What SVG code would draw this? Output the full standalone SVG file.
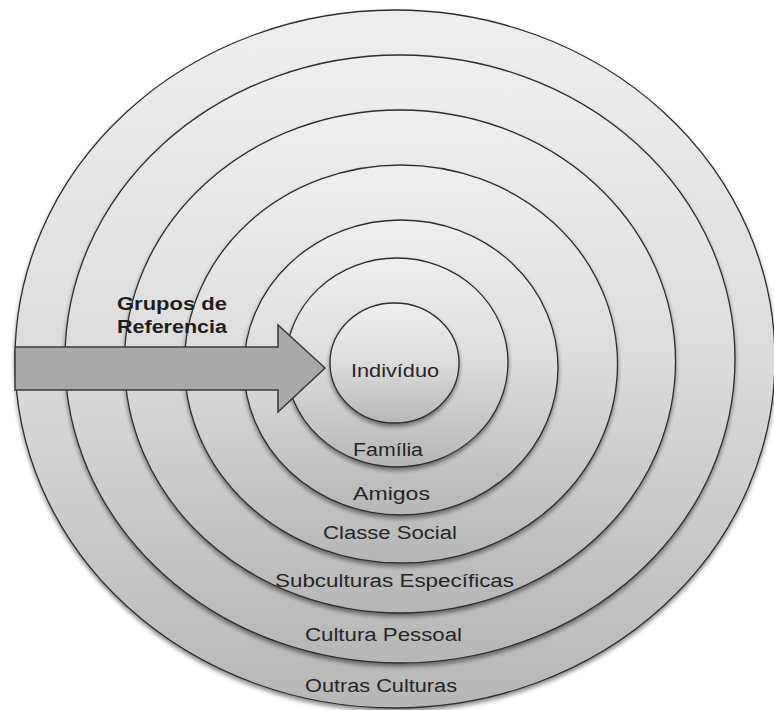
<svg xmlns="http://www.w3.org/2000/svg" width="774" height="710" viewBox="0 0 774 710">
  <defs>
    <linearGradient id="ringFill" x1="0" y1="0" x2="0" y2="1">
      <stop offset="0" stop-color="#eeeeee"/>
      <stop offset="0.5" stop-color="#dcdcdc"/>
      <stop offset="1" stop-color="#b6b6b6"/>
    </linearGradient>
    <filter id="shadow" x="-10%" y="-10%" width="120%" height="125%">
      <feDropShadow dx="0" dy="3" stdDeviation="2" flood-color="#000" flood-opacity="0.45"/>
    </filter>
  </defs>
  <style>
    .ring { fill: url(#ringFill); stroke: #2e2e2e; stroke-width: 1.3; filter: url(#shadow); }
    .lbl { font-family: "Liberation Sans", Arial, sans-serif; font-size: 18px; fill: #262626; }
    .bold { font-family: "Liberation Sans", Arial, sans-serif; font-size: 18px; font-weight: bold; fill: #1e1e1e; }
    .arrow { fill: #a9a9a9; stroke: #3a3a3a; stroke-width: 1.5; stroke-linejoin: miter; }
  </style>
  <rect width="774" height="710" fill="#ffffff"/>
  <g id="outras-culturas">
    <ellipse class="ring" cx="395" cy="359" rx="380" ry="349"/>
  </g>
  <g id="cultura-pessoal">
    <ellipse class="ring" cx="400" cy="359" rx="335" ry="304"/>
  </g>
  <g id="subculturas-especificas">
    <ellipse class="ring" cx="400" cy="361.5" rx="275.5" ry="251.5"/>
  </g>
  <g id="classe-social">
    <ellipse class="ring" cx="401" cy="364" rx="216.5" ry="199"/>
  </g>
  <g id="amigos">
    <ellipse class="ring" cx="401" cy="367.5" rx="157" ry="147.5"/>
  </g>
  <g id="familia">
    <ellipse class="ring" cx="397" cy="362.5" rx="111" ry="104.5"/>
  </g>
  <g id="individuo">
    <ellipse class="ring" cx="394.5" cy="363" rx="64.5" ry="60"/>
    <text class="lbl" x="351" y="377" textLength="88" lengthAdjust="spacingAndGlyphs">Indivíduo</text>
  </g>
  <g id="connectors">
    <polygon class="arrow" points="15,347 278,347 278,325 325,368 278,412 278,390 15,390"/>
  </g>
  <g id="labels">
    <text class="bold" x="117" y="310" textLength="110" lengthAdjust="spacingAndGlyphs">Grupos de</text>
    <text class="bold" x="117" y="333" textLength="110" lengthAdjust="spacingAndGlyphs">Referencia</text>
    <text class="lbl" x="353" y="456" textLength="70" lengthAdjust="spacingAndGlyphs">Família</text>
    <text class="lbl" x="353" y="500" textLength="77" lengthAdjust="spacingAndGlyphs">Amigos</text>
    <text class="lbl" x="323" y="539" textLength="134" lengthAdjust="spacingAndGlyphs">Classe Social</text>
    <text class="lbl" x="275" y="587" textLength="239" lengthAdjust="spacingAndGlyphs">Subculturas Específicas</text>
    <text class="lbl" x="305" y="641" textLength="157" lengthAdjust="spacingAndGlyphs">Cultura Pessoal</text>
    <text class="lbl" x="305" y="692" textLength="152" lengthAdjust="spacingAndGlyphs">Outras Culturas</text>
  </g>
</svg>
